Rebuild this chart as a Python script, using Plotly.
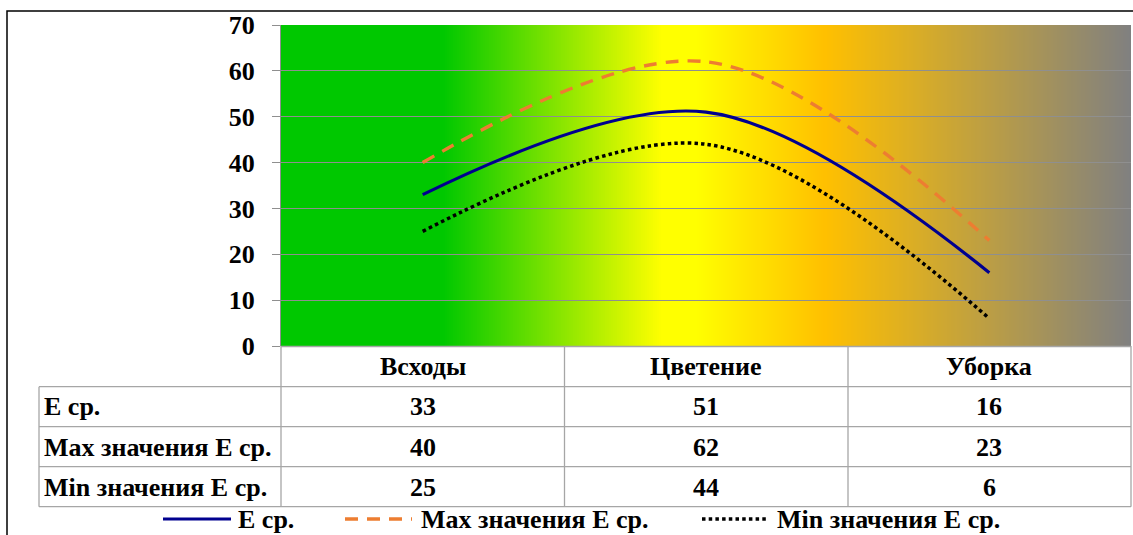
import plotly.graph_objects as go

# ---------------- data ----------------
categories = ["Всходы", "Цветение", "Уборка"]
series_names = ["E ср.", "Max значения E ср.", "Min значения E ср."]
e_avg = [33, 51, 16]
e_max = [40, 62, 23]
e_min = [25, 44, 6]
y_ticks = [0, 10, 20, 30, 40, 50, 60, 70]

series_values = [e_avg, e_max, e_min]
series_colors = ["#00008f", "#ed7d31", "#000000"]
series_dash = ["solid", "13px,9px", "3.5px,3.2px"]
series_width = [3.2, 3.4, 3.5]

# ---------------- layout geometry ----------------
W, H = 1133, 535
L, R, T, B = 281, 2, 25, 189
PW, PH = W - L - R, H - T - B


def fx(px):
    return (px - L) / PW


def fy(py):
    return (H - B - py) / PH


FONT = "Liberation Serif"
FS = 26
GRID = "#8f8f8f"
TBL = "#a6a6a6"

fig = go.Figure()

for name, vals, col, dash, lw in zip(series_names, series_values, series_colors, series_dash, series_width):
    fig.add_trace(go.Scatter(
        x=categories, y=vals, name=name, mode="lines",
        line=dict(color=col, width=lw, dash=dash, shape="spline", smoothing=1.0),
        showlegend=False, hoverinfo="skip",
    ))

shapes = []

# gradient background of plot area
stops = [(281, (0, 200, 0)), (443, (0, 200, 0)), (662, (255, 255, 0)),
         (695, (255, 255, 0)), (825, (255, 192, 0)), (1131, (128, 128, 128))]


def grad_color(px):
    for (x0, c0), (x1, c1) in zip(stops[:-1], stops[1:]):
        if x0 <= px <= x1:
            t = 0 if x1 == x0 else (px - x0) / (x1 - x0)
            return "rgb(%d,%d,%d)" % tuple(round(a + (b - a) * t) for a, b in zip(c0, c1))
    return "rgb(128,128,128)"


step = 2
px = L
while px < W - R:
    shapes.append(dict(type="rect", xref="paper", yref="paper", layer="below",
                       x0=fx(px), x1=fx(min(px + step + 0.6, W - R)), y0=0, y1=1,
                       line=dict(width=0), fillcolor=grad_color(px + step / 2)))
    px += step


def hline(x0, x1, y, color=TBL, w=1.3):
    shapes.append(dict(type="line", xref="paper", yref="paper", x0=fx(x0), x1=fx(x1),
                       y0=fy(y), y1=fy(y), line=dict(color=color, width=w)))


def vline(x, y0, y1, color=TBL, w=1.3):
    shapes.append(dict(type="line", xref="paper", yref="paper", x0=fx(x), x1=fx(x),
                       y0=fy(y0), y1=fy(y1), line=dict(color=color, width=w)))


# data table grid
row_lines = [386.7, 426.7, 466.7, 506.7]
for y in row_lines:
    hline(39, 1131, y)
hline(281, 1131, 346.5)
col_edges = [281, 564.5, 848, 1131]
for x in col_edges:
    vline(x, 346, 506.7)
vline(39, 386.7, 506.7)

# outer border
shapes.append(dict(type="rect", xref="paper", yref="paper", x0=fx(7), x1=fx(1150),
                   y0=fy(560), y1=fy(11), line=dict(color="black", width=1.5),
                   fillcolor="rgba(0,0,0,0)"))

annotations = []


def text(x, y, s, xanchor="center", xref="paper"):
    annotations.append(dict(x=x, y=fy(y), xref=xref, yref="paper", text="<b>" + s + "</b>",
                            showarrow=False, xanchor=xanchor, yanchor="middle",
                            font=dict(family=FONT, size=FS, color="black"),
                            borderpad=0))


# header row (categories)
for c in categories:
    text(c, 366, c, xref="x")
# value rows
row_centers = [407, 447, 487]
for name, vals, yc in zip(series_names, series_values, row_centers):
    text(fx(43), yc, name, xanchor="left")
    for c, v in zip(categories, vals):
        text(c, yc, str(v), xref="x")

# legend
leg_y = 519
leg_items = [(163, 231, 237), (345, 412, 420), (702, 766, 776)]
for (x0, x1, tx), name, col, dash, lw in zip(leg_items, series_names, series_colors, series_dash, series_width):
    shapes.append(dict(type="line", xref="paper", yref="paper", x0=fx(x0), x1=fx(x1),
                       y0=fy(leg_y), y1=fy(leg_y), line=dict(color=col, width=lw, dash=dash)))
    text(fx(tx), leg_y, name, xanchor="left")

fig.update_layout(
    width=W, height=H,
    margin=dict(l=L, r=R, t=T, b=B, pad=0),
    paper_bgcolor="white",
    plot_bgcolor="rgba(0,0,0,0)",
    shapes=shapes,
    annotations=annotations,
    showlegend=False,
    font=dict(family=FONT, size=FS, color="black"),
    xaxis=dict(type="category", range=[-0.5, 2.5], showticklabels=False, showgrid=False,
               zeroline=False, showline=False, ticks=""),
    yaxis=dict(range=[0, 70], tickvals=y_ticks, ticktext=["<b>%d</b>" % v for v in y_ticks],
               showgrid=True, gridcolor=GRID, gridwidth=1.3,
               zeroline=False, showline=True, linecolor=GRID, linewidth=1.3,
               ticks="outside", ticklen=8, tickcolor=GRID, tickwidth=1.3,
               ticklabelstandoff=12,
               tickfont=dict(family=FONT, size=FS, color="black")),
)

fig.write_html("out.html")
